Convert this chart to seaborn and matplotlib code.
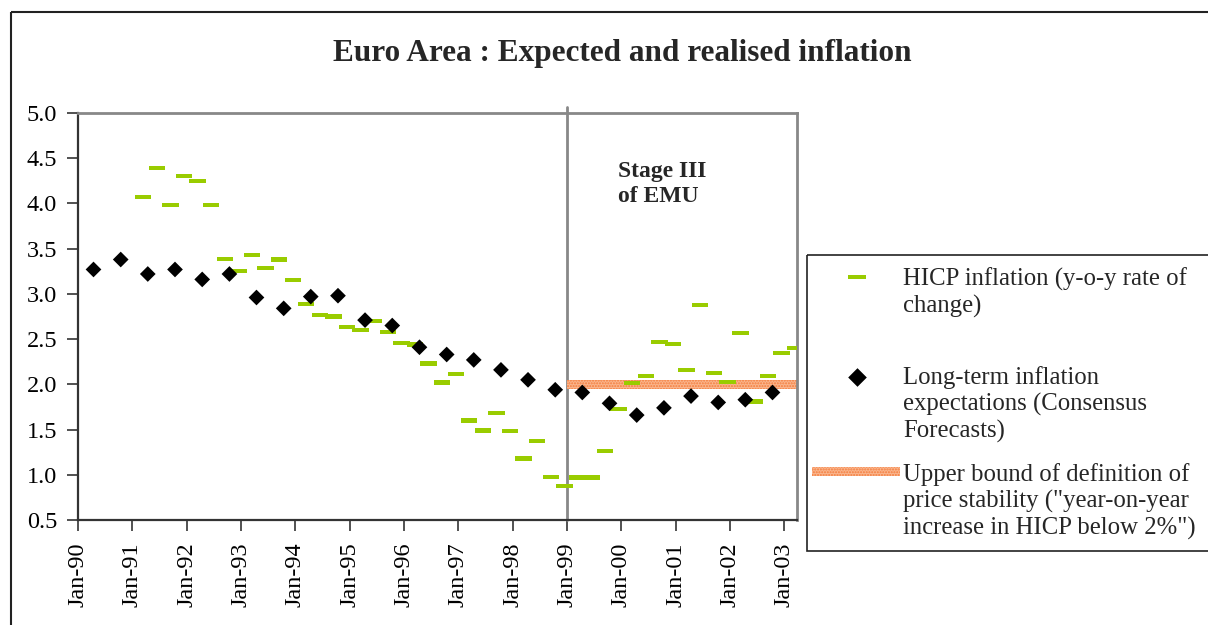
import matplotlib
matplotlib.use("Agg")
import pandas as pd
import matplotlib.pyplot as plt
import matplotlib.dates as mdates
from matplotlib.path import Path
from matplotlib.patches import Rectangle
from matplotlib.ticker import FormatStrFormatter
import seaborn as sns

# ---------------- DATA ---------------- #
title = "Euro Area : Expected and realised inflation"

# HICP inflation, quarterly (Mar-91 .. Mar-03)
hicp_dates = [f"{y}-{m:02d}-15" for y in range(1991, 2004) for m in (3, 6, 9, 12)][:49]
hicp_values = [4.07, 4.39, 3.98, 4.30, 4.25, 3.98, 3.39, 3.25, 3.43, 3.29,
               3.38, 3.15, 2.89, 2.77, 2.75, 2.63, 2.60, 2.70, 2.58, 2.46,
               2.44, 2.23, 2.02, 2.11, 1.60, 1.49, 1.68, 1.48, 1.18, 1.37,
               0.98, 0.88, 0.97, 0.97, 1.26, 1.73, 2.01, 2.09, 2.47, 2.45,
               2.16, 2.88, 2.13, 2.03, 2.57, 1.81, 2.09, 2.35, 2.40]

# Consensus Forecasts long-term expectations, semi-annual (Apr-90 .. Oct-02)
exp_dates = [f"{y}-{m:02d}-15" for y in range(1990, 2003) for m in (4, 10)]
exp_values = [3.27, 3.38, 3.22, 3.27, 3.16, 3.22, 2.96, 2.84, 2.97, 2.98,
              2.71, 2.65, 2.41, 2.33, 2.27, 2.16, 2.05, 1.94, 1.91, 1.79,
              1.66, 1.74, 1.87, 1.80, 1.83, 1.91]

stage3_start = "1999-01-01"
x_start, x_end = "1990-01-01", "2003-03-29"
price_stability = 2.0
tick_years = list(range(1990, 2004))

hicp_label = "HICP inflation (y-o-y rate of\nchange)"
exp_label = "Long-term inflation\nexpectations (Consensus\nForecasts)"
band_label = "Upper bound of definition of\nprice stability (\"year-on-year\nincrease in HICP below 2%\")"

hicp = pd.DataFrame({"date": pd.to_datetime(hicp_dates), "value": hicp_values})
expect = pd.DataFrame({"date": pd.to_datetime(exp_dates), "value": exp_values})

# ---------------- STYLE ---------------- #
sns.set_style("white")
plt.rcParams["font.family"] = ["Liberation Serif", "DejaVu Serif"]

green = "#99CC00"
dash = Path([(-1, -0.25), (1, -0.25), (1, 0.25), (-1, 0.25), (-1, -0.25)],
            [Path.MOVETO, Path.LINETO, Path.LINETO, Path.LINETO, Path.CLOSEPOLY])

fig = plt.figure(figsize=(12.08, 6.25), dpi=100)
ax = fig.add_axes([0.0646, 0.168, 0.5952, 0.6512])

# price stability band from Stage III onwards
band_x = pd.to_datetime([stage3_start, x_end])
ax.fill_between(band_x, price_stability - 0.05, price_stability + 0.05,
                facecolor="#FAB68E", edgecolor="#F47C3C", hatch="......",
                linewidth=0, zorder=2)

ax.axvline(pd.Timestamp(stage3_start), ymin=0, ymax=1.015, color="#888888",
           lw=2, clip_on=False, zorder=1)

sns.scatterplot(data=hicp, x="date", y="value", marker=dash, s=140,
                color=green, linewidth=0, edgecolor="none", ax=ax, zorder=3)
sns.scatterplot(data=expect, x="date", y="value", marker="D", s=64,
                color="black", linewidth=0, edgecolor="none", ax=ax, zorder=4)

ax.set_xlim(pd.Timestamp(x_start), pd.Timestamp(x_end))
ax.set_ylim(0.5, 5.0)
ax.set_yticks([0.5 + 0.5 * i for i in range(10)])
ax.yaxis.set_major_formatter(FormatStrFormatter("%.1f"))
ax.set_xticks([pd.Timestamp(f"{y}-01-01") for y in tick_years])
ax.xaxis.set_major_formatter(mdates.DateFormatter("%b-%y"))
ax.set_xlabel("")
ax.set_ylabel("")
ax.tick_params(axis="both", direction="out", length=8, width=1.2,
               color="#333333", labelcolor="black", left=True, bottom=True)
ax.tick_params(axis="y", labelsize=17.5, pad=7)
ax.tick_params(axis="x", labelsize=17.5, pad=8, labelrotation=90)

for side in ("left", "bottom"):
    ax.spines[side].set_color("#333333")
    ax.spines[side].set_linewidth(1.6)
for side in ("top", "right"):
    ax.spines[side].set_color("#888888")
    ax.spines[side].set_linewidth(2)

ax.text(pd.Timestamp("1999-12-10"), 4.47, "Stage III\nof EMU", fontsize=17,
        fontweight="bold", va="top", ha="left", linespacing=1.25)

# ---------------- OVERLAY: frame, title, legend ---------------- #
ov = fig.add_axes([0, 0, 1, 1], zorder=5)
ov.set_xlim(0, 1208)
ov.set_ylim(625, 0)
ov.axis("off")
ov.patch.set_alpha(0)

ov.add_patch(Rectangle((11, 12), 1230, 640, fill=False, ec="#222222", lw=1.5))
ov.text(622, 61, title, ha="center", va="baseline", fontsize=22.5,
        fontweight="bold")

ov.add_patch(Rectangle((807, 255), 430, 296, fill=False, ec="#222222", lw=1.2))
ov.scatter([857], [277], marker=dash, s=165, color=green, linewidth=0)
ov.scatter([857], [377], marker="D", s=90, color="black", linewidth=0)
ov.add_patch(Rectangle((812, 467), 88, 9, facecolor="#FAB68E",
                       edgecolor="#F47C3C", hatch="......", linewidth=0))
leg_kw = dict(ha="left", va="top", fontsize=17.8, linespacing=1.22)
ov.text(903, 268, hicp_label, **leg_kw)
ov.text(903, 366, exp_label, **leg_kw)
ov.text(903, 463, band_label, **leg_kw)

fig.savefig("out.png", dpi=100)
